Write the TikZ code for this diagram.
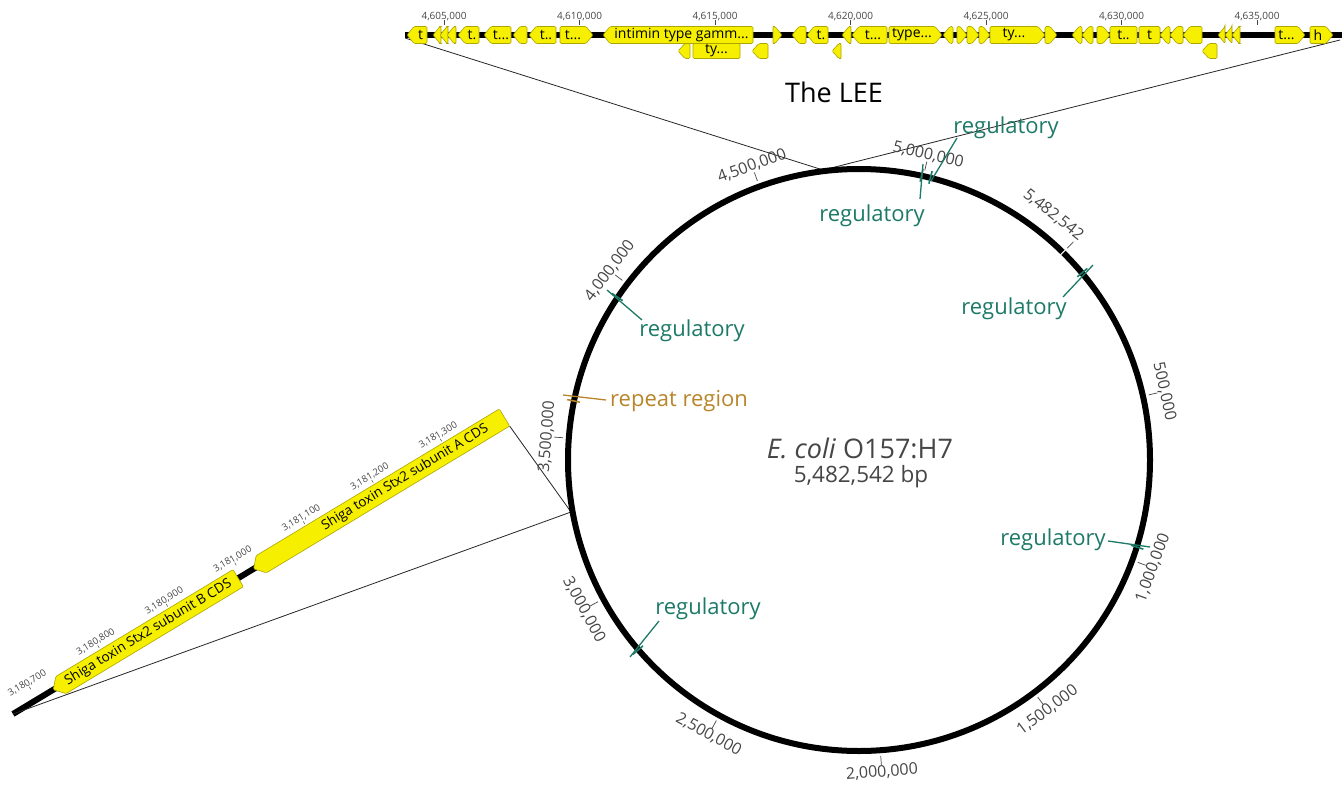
\documentclass[tikz,border=0pt]{standalone}
\usepackage{fontspec}
\setmainfont{Open Sans}
\usetikzlibrary{calc}
\definecolor{tealc}{RGB}{29,122,104}
\definecolor{repc}{RGB}{184,134,42}
\definecolor{gfill}{RGB}{246,240,0}
\definecolor{gdraw}{RGB}{175,165,0}
\definecolor{lbl}{RGB}{70,70,70}
\tikzset{
  gene/.style={fill=gfill, draw=gdraw, line width=0.6pt, rounded corners=1.2pt},
  glabel/.style={font=\fontsize{14}{14}\selectfont, inner sep=0pt, text=black},
  dlabel/.style={font=\fontsize{13.5}{13.5}\selectfont, inner sep=0pt, text=black, transform shape},
  ticklbl/.style={font=\fontsize{10}{10}\selectfont, text=lbl, inner sep=0pt},
  dticklbl/.style={font=\fontsize{9.5}{9.5}\selectfont, text=lbl, inner sep=0pt, transform shape},
  circlbl/.style={font=\fontsize{16}{16}\selectfont, text=lbl, inner sep=0pt},
  reglbl/.style={font=\fontsize{22}{22}\selectfont, text=tealc, inner sep=0pt},
  replbl/.style={font=\fontsize{22}{22}\selectfont, text=repc, inner sep=0pt},
  regline/.style={draw=tealc, line width=1.3pt},
  repline/.style={draw=repc, line width=1.3pt},
  zoomline/.style={draw=black!85, line width=0.8pt},
  tickmark/.style={draw=lbl, line width=0.7pt},
}
\newcounter{gn}
\newcommand\gR[5]{%
  \pgfmathsetmacro\gtip{min(7,#2-#1)}%
  \draw[gene] (#1,{#3-#4}) -- ({#2-\gtip},{#3-#4}) -- (#2,#3) -- ({#2-\gtip},{#3+#4}) -- (#1,{#3+#4}) -- cycle;%
  \def\gtmp{#5}\ifx\gtmp\empty\else\stepcounter{gn}\node[glabel] (g\thegn) at ({(#1+#2-\gtip)/2},#3) {#5};\fi}
\newcommand\gL[5]{%
  \pgfmathsetmacro\gtip{min(7,#2-#1)}%
  \draw[gene] (#2,{#3-#4}) -- ({#1+\gtip},{#3-#4}) -- (#1,#3) -- ({#1+\gtip},{#3+#4}) -- (#2,{#3+#4}) -- cycle;%
  \def\gtmp{#5}\ifx\gtmp\empty\else\stepcounter{gn}\node[glabel] (g\thegn) at ({(#1+\gtip+#2)/2},#3) {#5};\fi}
\newcommand\gB[5]{%
  \draw[gene] (#1,{#3-#4}) rectangle (#2,{#3+#4});%
  \stepcounter{gn}\node[glabel] (g\thegn) at ({(#1+#2)/2},#3) {#5};}
\newcommand\cmark[4]{% theta, rotation, name, text
  \draw[tickmark] ($(C)+(#1-90:297)$) -- ($(C)+(#1-90:306)$);
  \node[circlbl, rotate=#2] (#3) at ($(C)+(#1-90:313)$) {#4};}
\newcommand\fbar[2]{% theta, colour
  \draw[draw=#2, line width=1.6pt] ($(C)+(#1-90:285)$) -- ($(C)+(#1-90:298)$);}
\begin{document}
\begin{tikzpicture}[x=1pt,y=-1pt]
\fill[white] (0,0) rectangle (1342,787);
\useasboundingbox (0,0) rectangle (1342,787);
\coordinate (C) at (859,460);

% ---------- zoom lines ----------
\coordinate (leeL) at (405,38);
\coordinate (leeR) at (1340,40);
\coordinate (leeC) at (823,170);
\coordinate (stxL) at (13,714);
\coordinate (stxC) at (571,512);
\draw[zoomline] (leeL) -- (leeC) -- (leeR);

% ---------- top track (LEE) ----------
\draw[line width=5.5pt] (405,35) -- (1342,35);
\gL{407}{427}{35}{8.5}{t}
\gL{433}{441}{35}{8.5}{}
\gL{440}{448}{35}{8.5}{}
\gL{447}{456}{35}{8.5}{}
\gL{458}{479}{35}{8.5}{t.}
\gL{484}{511}{35}{8.5}{t...}
\gL{513}{527}{35}{8.5}{}
\gL{529}{556}{35}{8.5}{t..}
\gR{560}{593}{35}{8.5}{t...}
\gL{603}{753}{35}{8.5}{intimin type gamm...}
\gR{773}{782}{35}{8.5}{}
\gL{792}{806}{35}{8.5}{}
\gL{807}{828}{35}{8.5}{t.}
\gL{842}{851}{35}{8.5}{}
\gL{852}{887}{35}{8.5}{t...}
\gR{889}{942}{35}{8.5}{type...}
\gL{943}{953}{35}{8.5}{}
\gR{957}{967}{35}{8.5}{}
\gR{967}{979}{35}{8.5}{}
\gR{979}{990}{35}{8.5}{}
\gR{990}{1045}{35}{8.5}{ty...}
\gR{1045}{1057}{35}{8.5}{}
\gL{1072}{1082}{35}{8.5}{}
\gL{1082}{1093}{35}{8.5}{}
\gR{1097}{1110}{35}{8.5}{}
\gB{1110}{1137}{35}{8.5}{t..}
\gB{1139}{1160}{35}{8.5}{t}
\gL{1160}{1170}{35}{8.5}{}
\gL{1170}{1183}{35}{8.5}{}
\gL{1183}{1202}{35}{8.5}{}
\gL{1218}{1225}{35}{8.5}{}
\gL{1225}{1232}{35}{8.5}{}
\gL{1232}{1240}{35}{8.5}{}
\gR{1275}{1305}{35}{8.5}{t...}
\gR{1310}{1333}{35}{8.5}{h}
% second row
\gL{678}{690}{51}{7.5}{}
\gB{693}{740}{51}{7.5}{ty...}
\gL{752}{768}{51}{7.5}{}
\gL{832}{841}{51}{7.5}{}
\gL{1202}{1217}{51}{7.5}{}
% ticks
\foreach \i/\lab in {0/{4,605,000},1/{4,610,000},2/{4,615,000},3/{4,620,000},4/{4,625,000},5/{4,630,000},6/{4,635,000}}{
  \draw[tickmark, line width=0.6pt] ({444+135.5*\i},20) -- ({444+135.5*\i},25);
  \node[ticklbl] (tt\i) at ({444+135.5*\i},17) {\lab};
}
\node[font=\fontsize{27}{27}\selectfont] (lee) at (834,92) {The LEE};

% ---------- diagonal track (Stx2) ----------
\begin{scope}[shift={(13,714)}, rotate=31.1]
  \draw[line width=6pt] (0,0) -- (300,0);
  \draw[gene] (263,-10) -- (56,-10) -- (47,0) -- (56,10) -- (263,10) -- cycle;
  \draw[gene] (574,-10) -- (290,-10) -- (281,0) -- (290,10) -- (574,10) -- cycle;
  \coordinate (stxR) at (574,10);
  \node[dlabel] (stxB) at (158,0) {Shiga toxin Stx2 subunit B CDS};
  \node[dlabel] (stxA) at (458,0) {Shiga toxin Stx2 subunit A CDS};
  \foreach \k/\lab in {0/{3,180,700},1/{3,180,800},2/{3,180,900},3/{3,181,000},4/{3,181,100},5/{3,181,200},6/{3,181,300}}{
    \draw[tickmark, line width=0.5pt] ({28+80*\k},-12) -- ({28+80*\k},-15);
    \node[dticklbl] (dt\k) at ({28+80*\k},-19) {\lab};
  }
\end{scope}
\draw[zoomline] (stxL) -- (stxC) -- (stxR);

% ---------- circular map ----------
\draw[line width=6pt] (C) circle[radius=291];
\draw[white, line width=1pt] ($(C)+(44.5-90:286)$) -- ($(C)+(44.5-90:296)$);
\draw[tickmark] ($(C)+(44.5-90:297)$) -- ($(C)+(44.5-90:306)$);
\node[circlbl, rotate=-38.4] (c0) at ($(C)+(38.4-90:313)$) {5,482,542};
\cmark{77.33}{-77.33}{c1}{500,000}
\cmark{110.16}{69.84}{c2}{1,000,000}
\cmark{143.0}{37.0}{c3}{1,500,000}
\cmark{175.8}{4.2}{c4}{2,000,000}
\cmark{208.7}{-28.7}{c5}{2,500,000}
\cmark{241.5}{-61.5}{c6}{3,000,000}
\cmark{274.3}{85.7}{c7}{3,500,000}
\cmark{307.2}{52.8}{c8}{4,000,000}
\cmark{340.0}{20.0}{c9}{4,500,000}
\cmark{12.8}{-12.8}{c10}{5,000,000}

% features
\fbar{304}{tealc}
\fbar{229.3}{tealc}
\fbar{12.4}{tealc}
\fbar{14.2}{tealc}
\fbar{50}{tealc}
\fbar{107.4}{tealc}
\fbar{281.7}{repc}

\node[reglbl] (r1) at (692,331) {regulatory};
\node[reglbl] (r2) at (1006,128) {regulatory};
\node[reglbl] (r3) at (872,216) {regulatory};
\node[reglbl] (r4) at (1014,309) {regulatory};
\node[reglbl] (r5) at (1053,540) {regulatory};
\node[reglbl] (r6) at (708,609) {regulatory};
\node[replbl] (rp) at (679,401) {repeat region};

\coordinate (f1) at (607,290); \coordinate (e1) at (642,320);
\coordinate (f2) at (931,181); \coordinate (e2) at (957,138);
\coordinate (f3) at (923,164); \coordinate (e3) at (920,199);
\coordinate (f4) at (1093,265); \coordinate (e4) at (1063,297);
\coordinate (f5) at (1150,547); \coordinate (e5) at (1108,541);
\coordinate (f6) at (630,657); \coordinate (e6) at (659,621);
\coordinate (fp) at (563,395); \coordinate (ep) at (606,400);
\draw[regline] (f1) -- (e1);
\draw[regline] (f2) -- (e2);
\draw[regline] (f3) -- (e3);
\draw[regline] (f4) -- (e4);
\draw[regline] (f5) -- (e5);
\draw[regline] (f6) -- (e6);
\draw[repline] (fp) -- (ep);

% centre labels
\node[font=\fontsize{27}{27}\selectfont, text=lbl] (title) at (860,448) {\textit{E. coli} O157:H7};
\node[font=\fontsize{22.5}{22.5}\selectfont, text=lbl] (bp) at (861,477) {5,482,542 bp};
\end{tikzpicture}
\end{document}
